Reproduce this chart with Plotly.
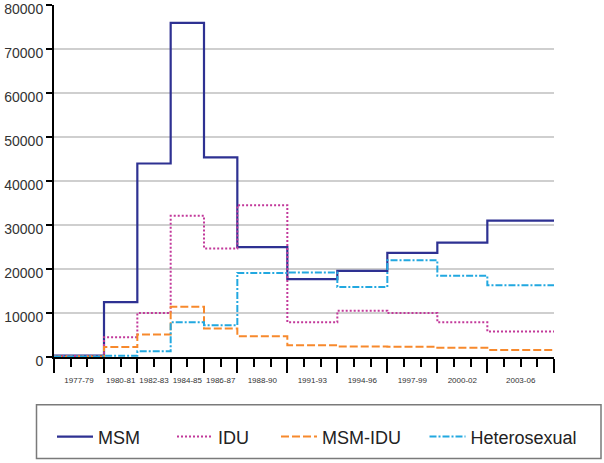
import plotly.graph_objects as go

# Periods (start year of each period, final end year)
period_labels = ["1977-79", "1980-81", "1982-83", "1984-85", "1986-87", "1988-90",
                 "1991-93", "1994-96", "1997-99", "2000-02", "2003-06"]
period_bounds = [1977, 1980, 1982, 1984, 1986, 1988, 1991, 1994, 1997, 2000, 2003, 2007]
y_ticks = [0, 10000, 20000, 30000, 40000, 50000, 60000, 70000, 80000]

msm = [300, 12500, 44000, 76000, 45400, 25000, 17700, 19600, 23700, 26000, 31000]
idu = [200, 4500, 10000, 32100, 24700, 34500, 7900, 10500, 10000, 7900, 5800]
msm_idu = [100, 2300, 5100, 11400, 6500, 4700, 2700, 2400, 2350, 2100, 1600]
hetero = [100, 300, 1300, 7900, 7200, 19100, 19200, 15900, 22000, 18500, 16300]

series = [
    ("MSM", msm, "#2e3192", "solid", 2.2),
    ("IDU", idu, "#c2399a", "2px,2px", 2),
    ("MSM-IDU", msm_idu, "#f7892c", "8px,3px", 2),
    ("Heterosexual", hetero, "#22a8e0", "7px,2px,2px,2px", 2),
]
legend_x = [-0.004, 0.236, 0.444, 0.741]

fig = go.Figure()
for i, (name, vals, color, dash, w) in enumerate(series):
    lg = "legend" if i == 0 else f"legend{i+1}"
    fig.add_trace(go.Scatter(
        x=period_bounds, y=vals + [vals[-1]],
        mode="lines", line=dict(shape="hv", color=color, dash=dash, width=w),
        name=name, legend=lg, hoverinfo="skip"))

mids = [(a + b) / 2 for a, b in zip(period_bounds[:-1], period_bounds[1:])]
fig.add_trace(go.Scatter(x=mids, y=[0] * len(mids), xaxis="x2", mode="markers",
                         marker=dict(opacity=0), showlegend=False, hoverinfo="skip"))

legend_common = dict(orientation="h", yanchor="middle", y=-0.227, xanchor="left",
                     bgcolor="rgba(0,0,0,0)", borderwidth=0, itemwidth=36,
                     font=dict(family="Liberation Sans, Arial", size=18, color="#222"))
layout_legends = {}
for i, lx in enumerate(legend_x):
    key = "legend" if i == 0 else f"legend{i+1}"
    layout_legends[key] = dict(legend_common, x=lx)

fig.update_layout(
    template="none",
    width=604, height=463,
    margin=dict(l=54, r=50, t=5, b=106, autoexpand=False),
    paper_bgcolor="white", plot_bgcolor="white",
    showlegend=True,
    xaxis=dict(range=[1977, 2007], tickmode="array", tickvals=period_bounds,
               showticklabels=False, ticks="outside", ticklen=14, tickwidth=2,
               tickcolor="black", showline=True, linecolor="black", linewidth=2,
               showgrid=False, zeroline=False, automargin=False,
               minor=dict(ticks="outside", tick0=1977, dtick=1, ticklen=8,
                          tickwidth=2, tickcolor="black", showgrid=False)),
    xaxis2=dict(range=[1977, 2007], overlaying="x", side="bottom", anchor="y",
                tickmode="array", tickvals=mids, ticktext=period_labels,
                ticks="outside", ticklen=15, tickcolor="rgba(0,0,0,0)",
                showgrid=False, showline=False, zeroline=False, automargin=False,
                tickfont=dict(family="Liberation Sans, Arial", size=8, color="#333")),
    yaxis=dict(range=[0, 80050], tickmode="array", tickvals=y_ticks, tickformat="d",
               ticks="outside", ticklen=6, ticklabeloverflow="allow",
               ticklabelshift=4,
               tickwidth=1.5, tickcolor="black", showline=True, linecolor="black",
               linewidth=2, showgrid=True, gridcolor="#cfcfcf", gridwidth=1.5,
               zeroline=False, automargin=False,
               tickfont=dict(family="Liberation Sans, Arial", size=14, color="#333")),
    shapes=[dict(type="rect", xref="paper", yref="paper",
                 x0=-0.035, x1=1.094, y0=-0.288, y1=-0.1355,
                 line=dict(color="#7a7a7a", width=1.5), fillcolor="rgba(0,0,0,0)")],
    **layout_legends,
)

fig.write_html("out.html", config={"displayModeBar": False},
               post_script="document.body.style.margin='0';")
